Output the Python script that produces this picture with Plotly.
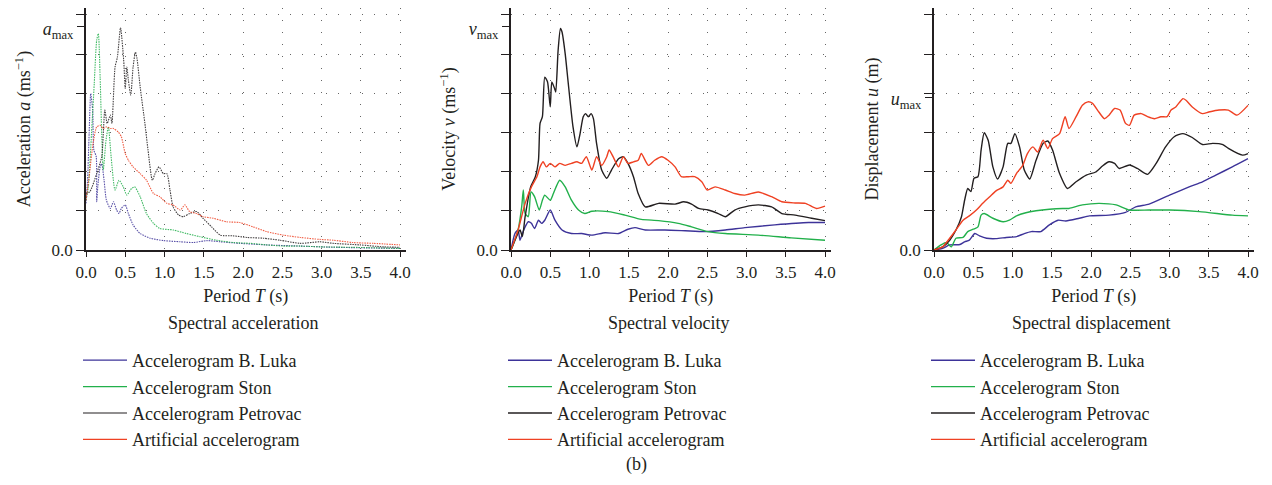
import plotly.graph_objects as go

# ---------------- data (grid units: 0 .. 6, peak labels a_max / v_max / u_max) -------------
# Spectral acceleration
acc_luka_T = [0, 0.02, 0.04, 0.06, 0.085, 0.10, 0.13, 0.136, 0.15, 0.18, 0.20, 0.23, 0.26, 0.31, 0.35, 0.39, 0.42, 0.45, 0.50, 0.54, 0.60, 0.69, 0.82, 0.985, 1.2, 1.37, 1.54, 1.71, 1.96, 2.3, 2.73, 3.15, 4.0]
acc_luka_v = [1.19, 1.78, 2.97, 3.99, 3.57, 2.55, 2.38, 1.23, 1.61, 2.12, 2.20, 1.78, 1.27, 1.06, 1.23, 1.02, 0.93, 1.06, 1.15, 0.93, 0.64, 0.42, 0.30, 0.24, 0.21, 0.19, 0.24, 0.21, 0.17, 0.13, 0.10, 0.07, 0.04]
acc_ston_T = [0, 0.03, 0.07, 0.105, 0.136, 0.157, 0.18, 0.20, 0.22, 0.255, 0.285, 0.32, 0.37, 0.42, 0.475, 0.52, 0.58, 0.62, 0.69, 0.77, 0.86, 0.94, 1.11, 1.28, 1.45, 1.66, 1.88, 2.09, 2.30, 2.51, 2.73, 2.98, 3.36, 4.0]
acc_ston_v = [1.27, 1.61, 2.97, 4.24, 5.35, 5.52, 4.41, 2.97, 2.04, 2.80, 3.14, 2.38, 1.53, 1.78, 1.61, 1.40, 1.57, 1.61, 1.36, 0.93, 0.68, 0.55, 0.51, 0.42, 0.34, 0.25, 0.19, 0.17, 0.13, 0.10, 0.10, 0.08, 0.07, 0.04]
acc_petr_T = [0, 0.05, 0.136, 0.20, 0.24, 0.27, 0.31, 0.33, 0.37, 0.40, 0.44, 0.48, 0.50, 0.52, 0.54, 0.57, 0.60, 0.63, 0.65, 0.69, 0.75, 0.79, 0.845, 0.88, 0.93, 0.985, 1.03, 1.07, 1.11, 1.18, 1.24, 1.32, 1.41, 1.49, 1.60, 1.71, 1.88, 2.05, 2.26, 2.47, 2.73, 2.98, 3.15, 3.49, 3.79, 4.0]
acc_petr_v = [1.44, 1.49, 1.95, 2.38, 3.57, 3.23, 3.44, 3.23, 4.67, 4.92, 5.67, 4.84, 4.12, 4.67, 4.33, 3.95, 4.67, 5.05, 4.88, 4.16, 3.23, 2.55, 1.78, 1.95, 2.12, 1.95, 1.95, 1.53, 1.10, 0.89, 0.85, 0.93, 0.98, 0.81, 0.59, 0.38, 0.36, 0.32, 0.30, 0.25, 0.17, 0.21, 0.17, 0.13, 0.08, 0.07]
acc_art_T = [0, 0.04, 0.09, 0.136, 0.18, 0.22, 0.26, 0.31, 0.35, 0.41, 0.45, 0.50, 0.54, 0.60, 0.69, 0.77, 0.86, 0.94, 1.03, 1.11, 1.20, 1.26, 1.32, 1.41, 1.49, 1.62, 1.79, 1.96, 2.13, 2.30, 2.51, 2.73, 2.98, 3.15, 3.40, 3.66, 4.0]
acc_art_v = [1.27, 1.87, 2.72, 3.14, 3.18, 3.10, 3.14, 3.10, 3.10, 3.01, 2.89, 2.46, 2.29, 2.12, 1.95, 1.78, 1.44, 1.36, 1.19, 1.15, 1.02, 1.15, 0.98, 0.93, 0.85, 0.81, 0.72, 0.70, 0.59, 0.47, 0.38, 0.32, 0.27, 0.25, 0.19, 0.17, 0.13]

# Spectral velocity
vel_luka_T = [0, 0.05, 0.09, 0.115, 0.145, 0.18, 0.22, 0.26, 0.30, 0.35, 0.39, 0.43, 0.50, 0.56, 0.65, 0.77, 0.90, 1.03, 1.20, 1.37, 1.49, 1.58, 1.71, 1.96, 2.22, 2.47, 2.73, 2.98, 3.36, 3.79, 4.0]
vel_luka_v = [0, 0.42, 0.51, 0.25, 0.42, 0.59, 0.72, 0.68, 0.55, 0.76, 0.68, 0.76, 1.02, 0.76, 0.51, 0.42, 0.42, 0.38, 0.44, 0.42, 0.53, 0.57, 0.51, 0.51, 0.49, 0.47, 0.51, 0.57, 0.64, 0.70, 0.70]
vel_ston_T = [0, 0.05, 0.09, 0.136, 0.157, 0.18, 0.22, 0.255, 0.30, 0.36, 0.40, 0.43, 0.50, 0.54, 0.62, 0.69, 0.77, 0.86, 0.94, 1.03, 1.24, 1.45, 1.66, 1.88, 2.13, 2.30, 2.51, 2.73, 3.15, 3.57, 4.0]
vel_ston_v = [0, 0.25, 0.51, 1.10, 1.53, 0.93, 0.85, 1.48, 1.36, 1.02, 1.27, 1.40, 1.27, 1.44, 1.78, 1.61, 1.27, 1.02, 0.93, 0.99, 0.98, 0.89, 0.78, 0.75, 0.68, 0.59, 0.47, 0.42, 0.38, 0.31, 0.25]
vel_petr_T = [0, 0.05, 0.115, 0.145, 0.18, 0.25, 0.31, 0.35, 0.37, 0.40, 0.43, 0.465, 0.50, 0.52, 0.555, 0.57, 0.60, 0.63, 0.65, 0.69, 0.73, 0.79, 0.84, 0.88, 0.92, 0.95, 0.985, 1.02, 1.05, 1.09, 1.155, 1.22, 1.28, 1.37, 1.43, 1.49, 1.56, 1.62, 1.71, 1.88, 2.09, 2.2, 2.3, 2.39, 2.51, 2.64, 2.73, 2.85, 2.98, 3.15, 3.32, 3.45, 3.62, 3.83, 4.0]
vel_petr_v = [0, 0.25, 0.51, 0.34, 0.85, 1.61, 1.87, 2.29, 3.23, 3.40, 4.41, 4.29, 3.65, 4.29, 4.12, 4.03, 5.09, 5.65, 5.56, 5.01, 4.24, 3.14, 2.63, 2.97, 3.40, 3.48, 3.40, 3.48, 3.35, 2.72, 2.04, 1.83, 2.04, 2.33, 2.38, 2.21, 1.87, 1.44, 1.10, 1.19, 1.17, 1.23, 1.17, 1.06, 1.02, 0.93, 0.85, 1.02, 1.10, 1.15, 1.10, 0.93, 0.89, 0.81, 0.75]
vel_art_T = [0, 0.09, 0.18, 0.26, 0.33, 0.37, 0.41, 0.45, 0.50, 0.56, 0.62, 0.69, 0.77, 0.84, 0.90, 0.96, 1.03, 1.09, 1.155, 1.22, 1.25, 1.30, 1.37, 1.43, 1.49, 1.56, 1.62, 1.66, 1.75, 1.83, 1.92, 2.0, 2.09, 2.17, 2.26, 2.34, 2.43, 2.50, 2.60, 2.73, 2.85, 2.98, 3.15, 3.32, 3.45, 3.62, 3.75, 3.89, 4.0]
vel_art_v = [0, 0.51, 1.19, 1.61, 1.87, 2.12, 2.25, 2.12, 2.21, 2.12, 2.21, 2.16, 2.21, 2.25, 2.21, 2.38, 2.04, 2.38, 2.16, 2.38, 2.55, 2.38, 2.12, 2.38, 2.21, 2.25, 2.29, 2.46, 2.16, 2.29, 2.38, 2.29, 2.12, 1.87, 1.87, 1.87, 1.74, 1.53, 1.61, 1.53, 1.44, 1.40, 1.48, 1.36, 1.23, 1.20, 1.19, 1.06, 1.12]

# Spectral displacement
dis_luka_T = [0, 0.11, 0.20, 0.33, 0.39, 0.45, 0.52, 0.58, 0.67, 0.79, 0.92, 1.05, 1.15, 1.24, 1.36, 1.47, 1.58, 1.68, 1.85, 1.98, 2.23, 2.44, 2.57, 2.74, 3.0, 3.25, 3.42, 3.59, 3.80, 4.0]
dis_luka_v = [0, 0.04, 0.13, 0.14, 0.21, 0.25, 0.42, 0.36, 0.30, 0.29, 0.32, 0.34, 0.42, 0.47, 0.47, 0.64, 0.76, 0.74, 0.81, 0.87, 0.89, 0.96, 1.10, 1.17, 1.40, 1.61, 1.74, 1.91, 2.12, 2.33]
dis_ston_T = [0, 0.09, 0.16, 0.22, 0.28, 0.37, 0.43, 0.50, 0.56, 0.60, 0.64, 0.75, 0.88, 0.96, 1.05, 1.17, 1.30, 1.47, 1.64, 1.72, 1.89, 2.10, 2.32, 2.49, 2.74, 3.0, 3.38, 3.80, 4.0]
dis_ston_v = [0, 0.13, 0.19, 0.08, 0.30, 0.32, 0.47, 0.53, 0.59, 0.89, 0.93, 0.81, 0.72, 0.76, 0.87, 0.95, 1.0, 1.04, 1.06, 1.06, 1.15, 1.19, 1.15, 1.02, 1.02, 1.02, 0.98, 0.89, 0.87]
dis_petr_T = [0, 0.11, 0.20, 0.28, 0.35, 0.39, 0.43, 0.47, 0.51, 0.56, 0.60, 0.64, 0.69, 0.75, 0.81, 0.88, 0.94, 0.98, 1.03, 1.09, 1.15, 1.22, 1.30, 1.39, 1.45, 1.51, 1.60, 1.70, 1.81, 1.94, 2.06, 2.15, 2.23, 2.30, 2.36, 2.49, 2.59, 2.72, 2.83, 2.95, 3.06, 3.17, 3.29, 3.42, 3.55, 3.68, 3.75, 3.93, 4.0]
dis_petr_v = [0, 0.08, 0.25, 0.51, 0.85, 1.27, 1.57, 1.49, 1.83, 1.87, 2.55, 2.99, 2.80, 2.12, 1.81, 2.12, 2.72, 2.72, 2.97, 2.63, 2.04, 1.81, 2.29, 2.72, 2.78, 2.55, 1.95, 1.57, 1.74, 1.91, 1.99, 2.15, 2.25, 2.21, 2.08, 2.17, 2.08, 1.93, 2.21, 2.63, 2.89, 2.97, 2.87, 2.69, 2.72, 2.69, 2.59, 2.42, 2.46]
dis_art_T = [0, 0.11, 0.20, 0.28, 0.37, 0.45, 0.54, 0.62, 0.71, 0.79, 0.88, 0.94, 0.98, 1.05, 1.13, 1.19, 1.26, 1.32, 1.39, 1.45, 1.51, 1.60, 1.67, 1.72, 1.81, 1.89, 1.96, 2.02, 2.10, 2.17, 2.23, 2.30, 2.37, 2.44, 2.49, 2.55, 2.64, 2.72, 2.81, 2.89, 2.97, 3.02, 3.08, 3.17, 3.21, 3.29, 3.42, 3.50, 3.63, 3.75, 3.86, 4.0]
dis_art_v = [0, 0.08, 0.30, 0.51, 0.76, 0.87, 1.02, 1.19, 1.36, 1.51, 1.61, 1.78, 1.70, 1.95, 2.16, 2.46, 2.63, 2.50, 2.80, 2.59, 2.84, 2.97, 3.40, 3.10, 3.40, 3.69, 3.78, 3.74, 3.52, 3.35, 3.44, 3.61, 3.57, 3.23, 3.18, 3.44, 3.48, 3.40, 3.35, 3.40, 3.40, 3.57, 3.65, 3.86, 3.82, 3.65, 3.48, 3.52, 3.57, 3.57, 3.44, 3.69]

series_names = ["Accelerogram B. Luka", "Accelerogram Ston", "Accelerogram Petrovac", "Artificial accelerogram"]
series_colors = ["#3d3399", "#22b04b", "#231f20", "#ef4123"]

x_ticks = [0.0, 0.5, 1.0, 1.5, 2.0, 2.5, 3.0, 3.5, 4.0]
x_tick_text = ["0.0", "0.5", "1.0", "1.5", "2.0", "2.5", "3.0", "3.5", "4.0"]
y_ticks = [0, 1, 2, 3, 4, 5, 6]
y_tick_text = ["0.0", "", "", "", "", "", ""]
peak_vals = [5.69, 5.69, 3.9]
peak_text = ["<i>a</i><sub>max</sub>", "<i>v</i><sub>max</sub>", "<i>u</i><sub>max</sub>"]
y_titles = ["Acceleration <i>a</i> (ms<sup>−1</sup>)", "Velocity <i>v</i> (ms<sup>−1</sup>)", "Displacement <i>u</i> (m)"]
x_title = "Period <i>T</i> (s)"
subtitles = ["Spectral acceleration", "Spectral velocity", "Spectral displacement"]

panels = [
    [(acc_luka_T, acc_luka_v), (acc_ston_T, acc_ston_v), (acc_petr_T, acc_petr_v), (acc_art_T, acc_art_v)],
    [(vel_luka_T, vel_luka_v), (vel_ston_T, vel_ston_v), (vel_petr_T, vel_petr_v), (vel_art_T, vel_art_v)],
    [(dis_luka_T, dis_luka_v), (dis_ston_T, dis_ston_v), (dis_petr_T, dis_petr_v), (dis_art_T, dis_art_v)],
]

# ---------------- layout geometry (page body adds an 8 px offset) ----------------
OFF = 8
W, H = 1272 - OFF, 485 - OFF
FONT = "Liberation Serif"
left_px = [86 - OFF, 511 - OFF, 934 - OFF]
plot_w = 319.5
unit_px = 39.2
y0_px = 250 - OFF
ydom = [(H - y0_px) / H, 1.0]
ytop = y0_px / unit_px

fig = go.Figure()
legend_keys = ["legend", "legend2", "legend3"]

for p, curves in enumerate(panels):
    xa = "x" if p == 0 else f"x{p+1}"
    ya = "y" if p == 0 else f"y{p+1}"
    for s, (T, v) in enumerate(curves):
        fig.add_trace(go.Scatter(
            x=T, y=v, mode="lines", name=series_names[s],
            line=dict(color=series_colors[s], width=1.1 if p == 0 else 1.4,
                      dash="1.5px,1px" if p == 0 else "solid", shape="spline", smoothing=0.6),
            opacity=0.85 if p == 0 else 1.0,
            xaxis=xa, yaxis=ya, legend=legend_keys[p], showlegend=(p != 0), hoverinfo="skip"))
    if p == 0:
        # solid legend samples for the dotted acceleration curves
        for s in range(4):
            fig.add_trace(go.Scatter(
                x=[None], y=[None], mode="lines", name=series_names[s],
                line=dict(color=series_colors[s], width=1.2),
                xaxis=xa, yaxis=ya, legend=legend_keys[p], hoverinfo="skip"))
    # empty trace for the peak-label overlay axis
    fig.add_trace(go.Scatter(x=[], y=[], xaxis=xa, yaxis=f"y{p+4}", showlegend=False, hoverinfo="skip"))

layout = dict(
    width=W, height=H, margin=dict(l=0, r=0, t=0, b=0, autoexpand=False),
    paper_bgcolor="white", plot_bgcolor="white",
    font=dict(family=FONT, size=17, color="#231f20"),
    annotations=[], showlegend=True,
)
for p in range(3):
    xk = "xaxis" if p == 0 else f"xaxis{p+1}"
    yk = "yaxis" if p == 0 else f"yaxis{p+1}"
    ya = "y" if p == 0 else f"y{p+1}"
    xa = "x" if p == 0 else f"x{p+1}"
    d0 = left_px[p] / W
    layout[xk] = dict(
        domain=[d0, (left_px[p] + plot_w) / W], range=[0, 4.07], anchor=ya, automargin=False,
        tickvals=x_ticks, ticktext=x_tick_text, ticks="outside", ticklen=5, tickwidth=1.2,
        tickcolor="#231f20", showline=True, linecolor="#231f20", linewidth=1.5,
        showgrid=True, gridcolor="#666666", gridwidth=1, griddash="1px,11px", zeroline=False,
        tickfont=dict(size=17), ticklabelstandoff=1,
        title=dict(text=x_title, font=dict(size=18), standoff=8),
    )
    layout[yk] = dict(
        domain=ydom, range=[0, ytop], anchor=xa, automargin=False,
        tickvals=y_ticks, ticktext=y_tick_text, ticks="outside", ticklen=8, tickwidth=1.2,
        tickcolor="#231f20", showline=True, linecolor="#231f20", linewidth=1.5,
        showgrid=True, gridcolor="#666666", gridwidth=1, griddash="1px,11px", zeroline=False,
        tickfont=dict(size=17), title=dict(text=y_titles[p], font=dict(size=18), standoff=16),
    )
    layout[f"yaxis{p+4}"] = dict(
        overlaying=ya, anchor=xa, side="left", range=[0, ytop], automargin=False,
        tickvals=[peak_vals[p]], ticktext=[peak_text[p]], ticks="outside", ticklen=8, tickwidth=1.2,
        tickcolor="#231f20", showline=False, showgrid=False, zeroline=False,
        tickfont=dict(size=18), ticklabelshift=2,
    )
    layout["annotations"].append(dict(
        text=subtitles[p], x=2.0, xref=xa, y=(H - (323 - OFF)) / H, yref="paper",
        showarrow=False, font=dict(size=18), xanchor="center", yanchor="middle"))
    layout[legend_keys[p]] = dict(
        x=(left_px[p] - 8) / W, y=(H - (342 - OFF)) / H, xanchor="left", yanchor="top",
        bgcolor="rgba(0,0,0,0)", font=dict(size=18), tracegroupgap=0, itemwidth=44,
    )
layout["annotations"].append(dict(
    text="(b)", x=(636 - OFF) / W, y=(H - (464 - OFF)) / H, xref="paper", yref="paper",
    showarrow=False, font=dict(size=18), xanchor="center", yanchor="middle"))

fig.update_layout(**layout)
fig.write_html("out.html")
